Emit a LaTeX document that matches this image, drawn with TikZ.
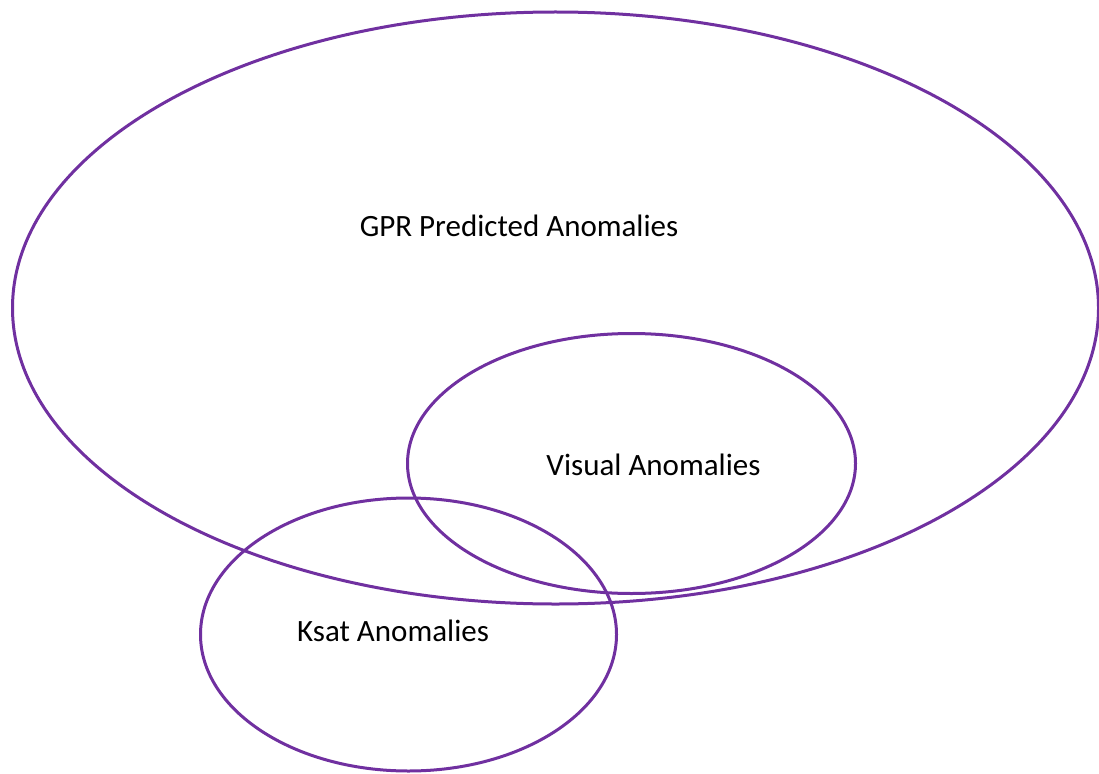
\documentclass[tikz,border=0pt]{standalone}
\usepackage{fontspec}
\setmainfont{Carlito}
\definecolor{venn}{HTML}{7030A0}
\begin{document}
\begin{tikzpicture}[x=1pt,y=-1pt,
  setline/.style={draw=venn, line width=3pt},
  lbl/.style={font=\fontsize{31}{36}\selectfont, text=black, inner sep=0pt}]
\useasboundingbox (0,0) rectangle (1099,773);
\draw[setline] (555.5,308) ellipse [x radius=543, y radius=296];
\draw[setline] (631.5,463.5) ellipse [x radius=224, y radius=130];
\draw[setline] (408.5,634.5) ellipse [x radius=208, y radius=136.5];
\node[lbl] (gpr) at (519,226) {GPR Predicted Anomalies};
\node[lbl] (vis) at (653.5,465) {Visual Anomalies};
\node[lbl] (ksat) at (393,631) {Ksat Anomalies};
\end{tikzpicture}
\end{document}
